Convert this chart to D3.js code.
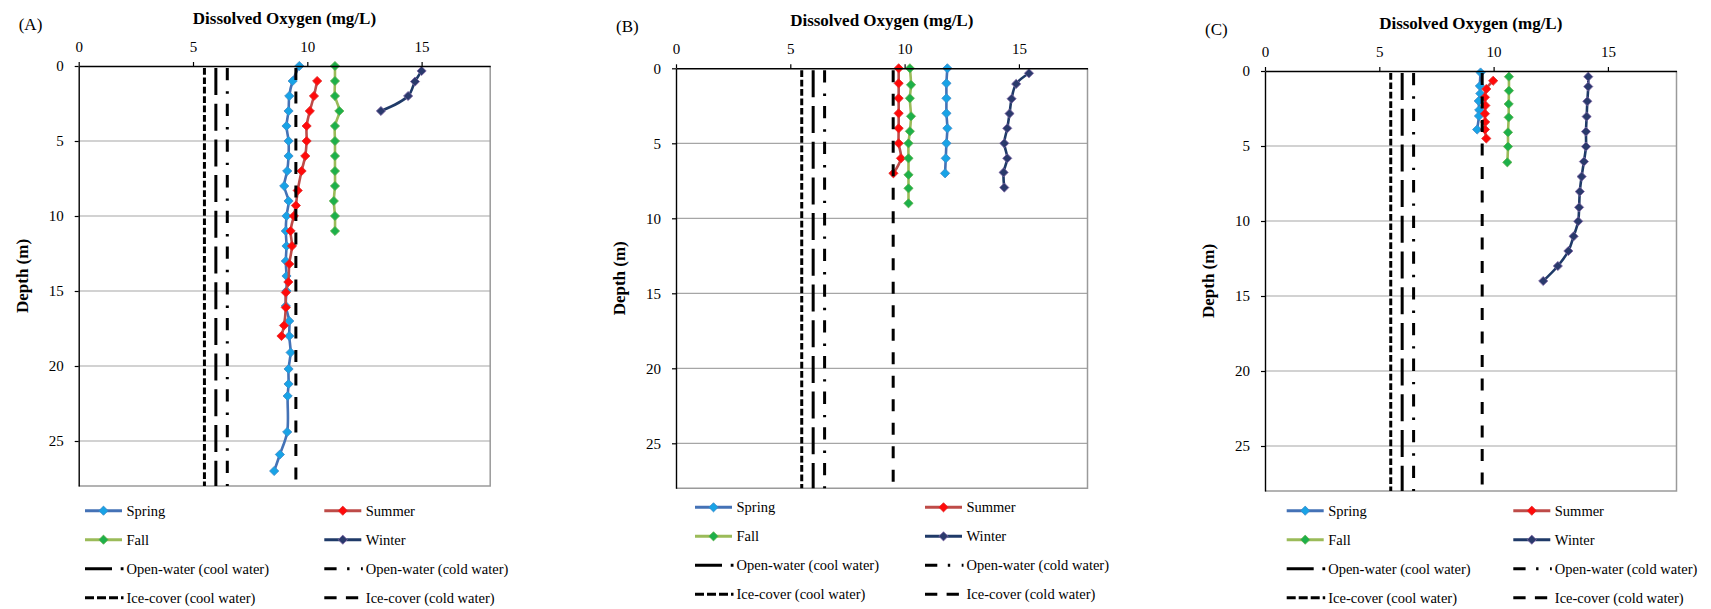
<!DOCTYPE html>
<html>
<head>
<meta charset="utf-8">
<script src="https://cdn.jsdelivr.net/npm/d3@7"></script>
<style>
  body { margin: 0; background: #fff; }
  svg text { font-family: "Liberation Serif", "Times New Roman", serif; fill: #000; }
</style>
</head>
<body>
<svg id="chart" width="1711" height="609"></svg>
<script>
// ---- Axis ticks and labels ----
const panelLabels = ["(A)", "(B)", "(C)"];
const oxygenTicks = [0, 5, 10, 15];
const depthTicks = [0, 5, 10, 15, 20, 25];
const oxygenDomain = [0, 18];
const depthDomain = [0, 28];
const xTitle = "Dissolved Oxygen (mg/L)";
const yTitle = "Depth (m)";

// ---- Seasons and DO criteria ----
const seasons = ["Spring", "Summer", "Fall", "Winter"];
const criteriaNames = ["Open-water (cool water)", "Open-water (cold water)", "Ice-cover (cool water)", "Ice-cover (cold water)"];
const criteriaDO = [6.0, 6.5, 5.5, 9.5];

// ---- Lake A profiles ----
const aSpringDepth = [0, 1, 2, 3, 4, 5, 6, 7, 8, 9, 10, 11, 12, 13, 14, 15, 16, 17, 18, 19.1, 20.2, 21.2, 22, 24.4, 25.9, 27];
const aSpringDO = [9.65, 9.36, 9.21, 9.18, 9.09, 9.18, 9.18, 9.12, 8.99, 9.18, 9.09, 9.06, 9.09, 9.06, 9.09, 9.09, 9.06, 9.21, 9.21, 9.27, 9.18, 9.18, 9.14, 9.12, 8.80, 8.55];
const aSummerDepth = [1, 2, 3, 4, 5, 6, 7, 8.3, 9.3, 10, 11, 12, 13.2, 14.4, 15.1, 16.1, 17.3, 18];
const aSummerDO = [10.43, 10.29, 10.11, 9.97, 9.97, 9.91, 9.75, 9.58, 9.50, 9.41, 9.27, 9.33, 9.21, 9.17, 9.06, 9.06, 8.98, 8.87];
const aFallDepth = [0, 1, 2, 3, 4, 5, 6, 7, 8, 9, 10, 11];
const aFallDO = [11.21, 11.21, 11.21, 11.40, 11.21, 11.21, 11.21, 11.21, 11.21, 11.16, 11.21, 11.21];
const aWinterDepth = [0.33, 1.04, 2, 3];
const aWinterDO = [15.0, 14.71, 14.41, 13.22];

// ---- Lake B profiles ----
const bSpringDepth = [0, 1, 2, 3, 4, 5, 6, 7];
const bSpringDO = [11.87, 11.83, 11.83, 11.83, 11.87, 11.83, 11.80, 11.77];
const bSummerDepth = [0, 1, 2, 3, 4, 5, 6, 7];
const bSummerDO = [9.74, 9.74, 9.74, 9.74, 9.74, 9.74, 9.84, 9.51];
const bFallDepth = [0, 1.1, 2, 3.2, 4.2, 5, 6, 7.1, 8, 9];
const bFallDO = [10.23, 10.28, 10.23, 10.28, 10.23, 10.17, 10.17, 10.17, 10.17, 10.17];
const bWinterDepth = [0.33, 1.04, 2.03, 3.02, 4, 5, 6, 6.94, 7.95];
const bWinterDO = [15.44, 14.88, 14.68, 14.59, 14.49, 14.36, 14.49, 14.33, 14.36];

// ---- Lake C profiles ----
const cSpringDepth = [0.1, 1.0, 1.5, 2.0, 2.6, 3.0, 3.9];
const cSpringDO = [9.43, 9.40, 9.42, 9.35, 9.37, 9.36, 9.28];
const cSummerDepth = [0.65, 1.2, 1.75, 2.3, 2.85, 3.4, 3.9, 4.5];
const cSummerDO = [9.98, 9.68, 9.62, 9.64, 9.62, 9.63, 9.62, 9.68];
const cFallDepth = [0.38, 1.31, 2.2, 3.09, 4.09, 5.04, 6.09];
const cFallDO = [10.67, 10.67, 10.66, 10.66, 10.63, 10.63, 10.60];
const cWinterDepth = [0.38, 1.04, 2.02, 3.04, 4.04, 5.04, 6.04, 7.04, 8.04, 9.09, 10.02, 11.02, 12, 13, 14];
const cWinterDO = [14.14, 14.14, 14.10, 14.07, 14.04, 14.04, 13.95, 13.85, 13.77, 13.74, 13.70, 13.50, 13.27, 12.81, 12.17];

const panelProfiles = [
  [[aSpringDepth, aSpringDO], [aSummerDepth, aSummerDO], [aFallDepth, aFallDO], [aWinterDepth, aWinterDO]],
  [[bSpringDepth, bSpringDO], [bSummerDepth, bSummerDO], [bFallDepth, bFallDO], [bWinterDepth, bWinterDO]],
  [[cSpringDepth, cSpringDO], [cSummerDepth, cSummerDO], [cFallDepth, cFallDO], [cWinterDepth, cWinterDO]]
];

// ---- Styles ----
const seasonStyle = [
  { line: "#4472B6", fill: "#18A3E6", stroke: "#3A86C6" },
  { line: "#BE4B48", fill: "#FF0A0A", stroke: "#E02828" },
  { line: "#9BBB59", fill: "#1DB04A", stroke: "#5FB04A" },
  { line: "#1F3A68", fill: "#2A3A6C", stroke: "#8066A6" }
];
const criteriaStyle = [
  { dash: "27,8.7", legendDash: "27,8.7" },
  { dash: "12.3,11,2.4,10", legendDash: "12.3,10.5,2.4,11.5" },
  { dash: "6.7,2.7", legendDash: "9,3" },
  { dash: "12,11.5", legendDash: "12.3,9.3" }
];

// ---- Frame geometry ----
const plotW = 411.5, plotH = 420;
const frames = [
  { left: 78.7, top: 66,   legendX: [85, 324.3],      legendY: 510.7 },
  { left: 676,  top: 68.3, legendX: [695, 925],       legendY: 507.3 },
  { left: 1265, top: 71,   legendX: [1286.7, 1513.3], legendY: 510.7 }
];
const legendRowGap = 29, sampleLen = 38.5, textGap = 41.5;

const svg = d3.select("#chart");

function diamond(g, cx, cy, st) {
  const r = 4.6;
  g.append("path")
    .attr("d", `M${cx},${cy - r}L${cx + r},${cy}L${cx},${cy + r}L${cx - r},${cy}Z`)
    .attr("fill", st.fill)
    .attr("stroke", st.stroke)
    .attr("stroke-width", 0.8);
}

frames.forEach((f, pi) => {
  const x = d3.scaleLinear().domain(oxygenDomain).range([f.left, f.left + plotW]);
  const y = d3.scaleLinear().domain(depthDomain).range([f.top, f.top + plotH]);
  const g = svg.append("g");

  // horizontal gridlines
  g.selectAll("line.grid").data(depthTicks.filter(d => d > 0)).join("line")
    .attr("class", "grid")
    .attr("x1", x(oxygenDomain[0])).attr("x2", x(oxygenDomain[1]))
    .attr("y1", d => y(d)).attr("y2", d => y(d))
    .attr("stroke", "#a6a6a6").attr("stroke-width", 1.2);

  // right and bottom frame
  g.append("path")
    .attr("d", `M${x(oxygenDomain[1])},${y(0)}V${y(depthDomain[1])}H${x(0)}`)
    .attr("fill", "none").attr("stroke", "#9a9a9a").attr("stroke-width", 1.5);

  // season profiles
  const line = d3.line().x(d => x(d[1])).y(d => y(d[0])).curve(d3.curveCatmullRom.alpha(0.5));
  panelProfiles[pi].forEach(([depths, dos], si) => {
    const pts = depths.map((d, i) => [d, dos[i]]);
    g.append("path").attr("d", line(pts))
      .attr("fill", "none").attr("stroke", seasonStyle[si].line)
      .attr("stroke-width", 2.6).attr("stroke-linejoin", "round");
    pts.forEach(p => diamond(g, x(p[1]), y(p[0]), seasonStyle[si]));
  });

  // DO criteria lines
  criteriaDO.forEach((v, ci) => {
    g.append("line")
      .attr("x1", x(v)).attr("x2", x(v))
      .attr("y1", y(depthDomain[0]) + 2).attr("y2", y(depthDomain[1]))
      .attr("stroke", "#000").attr("stroke-width", 3)
      .attr("stroke-dasharray", criteriaStyle[ci].dash);
  });

  // axes
  const top = g.append("g").attr("transform", `translate(0,${f.top})`)
    .call(d3.axisTop(x).tickValues(oxygenTicks).tickSize(4).tickSizeOuter(0).tickPadding(10));
  const left = g.append("g").attr("transform", `translate(${f.left},0)`)
    .call(d3.axisLeft(y).tickValues(depthTicks).tickSize(4).tickSizeOuter(0).tickPadding(11));
  [top, left].forEach(a => {
    a.select(".domain").attr("stroke", "#000").attr("stroke-width", 1.4);
    a.selectAll(".tick line").attr("stroke", "#000").attr("stroke-width", 1.2);
    a.selectAll(".tick text").attr("font-size", 15).attr("fill", "#000");
  });

  // titles
  g.append("text").attr("x", f.left + plotW / 2).attr("y", f.top - 42)
    .attr("text-anchor", "middle").attr("font-size", 17).attr("font-weight", "bold").text(xTitle);
  g.append("text")
    .attr("transform", `translate(${f.left - 57},${f.top + plotH / 2}) rotate(-90)`)
    .attr("text-anchor", "middle").attr("dy", "0.35em")
    .attr("font-size", 17).attr("font-weight", "bold").text(yTitle);
  g.append("text").attr("x", f.left - 60).attr("y", f.top - 36)
    .attr("font-size", 17).text(panelLabels[pi]);

  // legend
  const lg = g.append("g");
  const items = [];
  seasons.forEach((s, i) => items.push({ name: s, kind: "season", idx: i }));
  criteriaNames.forEach((s, i) => items.push({ name: s, kind: "crit", idx: i }));
  items.forEach((it, k) => {
    const col = k % 2, row = Math.floor(k / 2);
    const sx = f.legendX[col], sy = f.legendY + row * legendRowGap;
    if (it.kind === "season") {
      const st = seasonStyle[it.idx];
      lg.append("line").attr("x1", sx).attr("x2", sx + sampleLen - 1.5).attr("y1", sy).attr("y2", sy)
        .attr("stroke", st.line).attr("stroke-width", 3);
      diamond(lg, sx + (sampleLen - 1.5) / 2, sy, st);
    } else {
      lg.append("line").attr("x1", sx).attr("x2", sx + sampleLen).attr("y1", sy).attr("y2", sy)
        .attr("stroke", "#000").attr("stroke-width", 3)
        .attr("stroke-dasharray", criteriaStyle[it.idx].legendDash);
    }
    lg.append("text").attr("x", sx + textGap).attr("y", sy + 5)
      .attr("font-size", 14.5).text(it.name);
  });
});
</script>
</body>
</html>
